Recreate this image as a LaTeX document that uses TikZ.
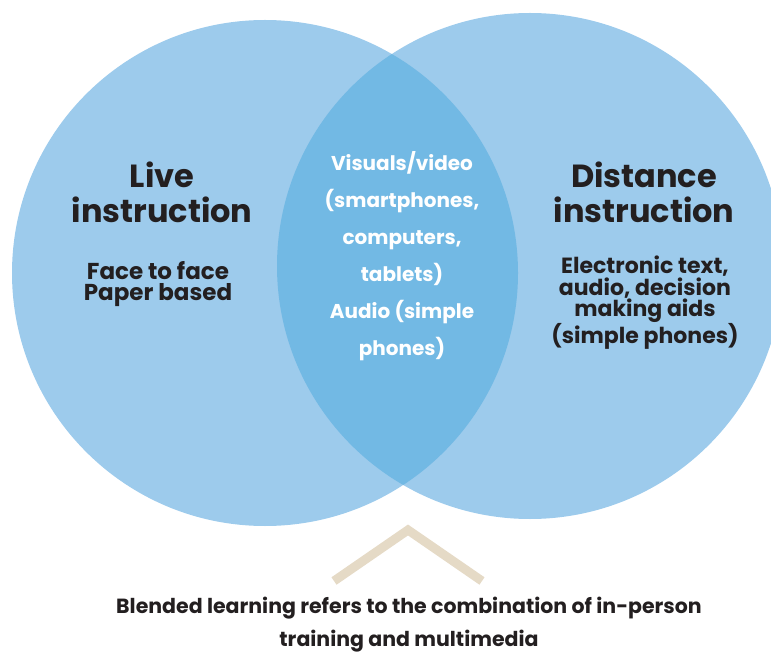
\documentclass[tikz,border=0pt]{standalone}
\usepackage{fontspec}
\setmainfont{Poppins}
\usetikzlibrary{positioning}
\definecolor{circblue}{RGB}{157,203,236}
\definecolor{lensblue}{RGB}{114,185,228}
\definecolor{chevbeige}{RGB}{229,218,198}
\definecolor{inktext}{RGB}{35,31,32}

\begin{document}
\begin{tikzpicture}
    [
      x=1pt,y=-1pt,
      circ/.style={fill=circblue},
      heading/.style={text=inktext,align=center,inner sep=0pt,font=\bfseries\fontsize{32}{35}\selectfont},
      detail/.style={text=inktext,align=center,inner sep=0pt,font=\bfseries\fontsize{22}{17}\selectfont},
      shared/.style={text=white,align=center,inner sep=0pt,font=\bfseries\fontsize{20}{37}\selectfont},
      caption/.style={text=inktext,align=center,inner sep=0pt,font=\bfseries\fontsize{20.5}{33}\selectfont},
      chevron/.style={draw=chevbeige,line width=9pt,miter limit=10},
    ]

    \useasboundingbox (0,0) rectangle (771,660);
    \clip (0,0) rectangle (771,660);

    \coordinate (live-c) at (265,273);
    \coordinate (dist-c) at (530,266);
    \fill [circ] (live-c) circle (253pt);
    \fill [circ] (dist-c) circle (253pt);
    \begin{scope}
      \clip (live-c) circle (253pt);
      \fill [lensblue] (dist-c) circle (253pt);
    \end{scope}

    \node (live-head) [heading] at (162,192) {Live\\instruction};
    \node (live-text) [detail,font=\bfseries\fontsize{23}{21}\selectfont] at (158,284) {Face to face\\Paper based};

    \node (dist-head) [heading] at (644,192) {Distance\\instruction};
    \node (dist-text) [detail] at (645,303) {Electronic text,\\audio, decision\\making aids\\(simple phones)};

    \node (both-text) [shared] at (402,256) {Visuals/video\\(smartphones,\\computers,\\tablets)\\Audio (simple\\phones)};

    \coordinate (chev-l) at (334,581);
    \coordinate (chev-top) at (408,530);
    \coordinate (chev-r) at (482,581);
    \draw [chevron] (chev-l) -- (chev-top) -- (chev-r);

    \node (blend) [caption] at (409,625) {Blended learning refers to the combination of in-person\\training and multimedia};

  \end{tikzpicture}
\end{document}
